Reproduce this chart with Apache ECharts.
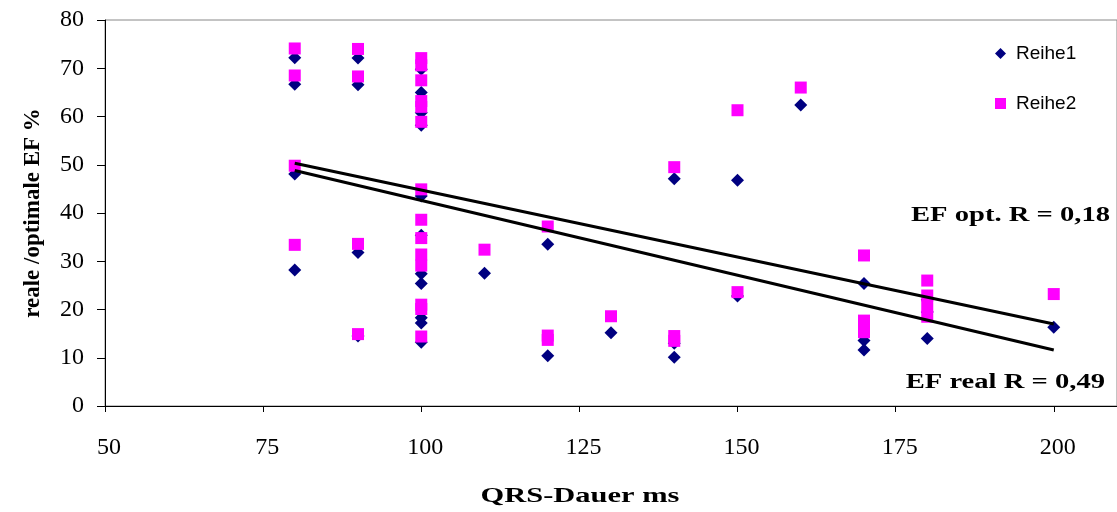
<!DOCTYPE html>
<html>
<head>
<meta charset="utf-8">
<script src="https://cdn.jsdelivr.net/npm/echarts@6/dist/echarts.min.js"></script>
<style>html,body{margin:0;padding:0;background:#fff;}#chart{width:1117px;height:512px;}</style>
</head>
<body>
<div id="chart"></div>
<script>
// Reihe1 (EF real) points: [QRS ms, EF %]
const reihe1 = [
  [80,72.2],[80,66.7],[80,48.1],[80,28.2],
  [90,72.1],[90,66.6],[90,31.8],[90,14.5],
  [100,69.8],[100,65.0],[100,60.8],[100,58.2],[100,43.5],[100,35.4],[100,27.4],[100,25.4],[100,18.3],[100,17.2],[100,13.2],
  [110,27.5],
  [120,33.5],[120,10.4],
  [130,15.2],
  [140,47.1],[140,13.0],[140,10.1],
  [150,46.8],[150,22.8],
  [160,62.4],
  [170,25.4],[170,13.6],[170,11.6],
  [180,22.0],[180,19.5],[180,14.0],
  [200,16.3]
];
// Reihe2 (EF optimal) points
const reihe2 = [
  [80,74.1],[80,68.5],[80,49.8],[80,33.4],
  [90,74.0],[90,68.3],[90,33.6],[90,14.9],
  [100,72.1],[100,70.6],[100,67.5],[100,63.2],[100,62.0],[100,58.9],[100,44.9],[100,38.6],[100,34.8],[100,31.4],[100,29.1],[100,21.0],[100,20.1],[100,14.4],
  [110,32.4],
  [120,37.2],[120,14.6],[120,13.7],
  [130,18.6],
  [140,49.5],[140,14.5],[140,13.5],
  [150,61.3],[150,23.6],
  [160,66.0],
  [170,31.2],[170,17.7],[170,16.4],[170,15.3],
  [180,26.0],[180,22.9],[180,20.7],[180,18.5],
  [200,23.2]
];
// Trend lines (value at x = 80 and x = 200)
const trendX = [80, 200];
const optTrend = [50.3, 17.0];
const realTrend = [48.8, 11.6];
const seriesNames = ['Reihe1', 'Reihe2'];
const annotations = ['EF opt. R = 0,18', 'EF real R = 0,49'];
const xAxisTitle = 'QRS-Dauer ms';
const yAxisTitle = 'reale /optimale EF %';

const serif = '"Liberation Serif", "Times New Roman", serif';
const chart = echarts.init(document.getElementById('chart'), null, {renderer: 'canvas'});
chart.setOption({
  animation: false,
  backgroundColor: '#fff',
  grid: {left: 105, top: 20, right: -6, bottom: 106, show: true, borderColor: '#888', borderWidth: 1},
  legend: {
    data: seriesNames,
    orient: 'vertical',
    left: 990, top: 39,
    itemWidth: 11, itemHeight: 11, itemGap: 31,
    textStyle: {fontFamily: '"Liberation Sans", Arial, sans-serif', fontSize: 19, color: '#000', padding: [0, 0, 0, 5]}
  },
  xAxis: {
    type: 'value', min: 50, max: 210, interval: 25,
    name: '',
    axisLine: {lineStyle: {color: '#000', width: 1}},
    axisTick: {show: true, length: 6, lineStyle: {color: '#000'}},
    axisLabel: {fontFamily: serif, fontSize: 24, color: '#000', margin: 30, showMaxLabel: false,
      padding: [0, 0, 0, 8],
      formatter: v => (v % 25 === 0 ? String(v) : '')},
    splitLine: {show: false}
  },
  yAxis: {
    type: 'value', min: 0, max: 80, interval: 10,
    name: yAxisTitle, nameLocation: 'middle', nameGap: 60,
    nameTextStyle: {fontFamily: serif, fontWeight: 'bold', fontSize: 23, color: '#000'},
    axisLine: {show: true, lineStyle: {color: '#000', width: 1}},
    axisTick: {show: true, length: 8, lineStyle: {color: '#000'}},
    axisLabel: {fontFamily: serif, fontSize: 24, color: '#000', margin: 21},
    splitLine: {show: false}
  },
  series: [
    {name: 'Reihe1', type: 'scatter', data: reihe1, symbol: 'diamond', symbolSize: 13,
      itemStyle: {color: '#000080', opacity: 1}, z: 2},
    {name: 'Reihe2', type: 'scatter', data: reihe2, symbol: 'rect', symbolSize: 12,
      itemStyle: {color: '#FF00FF', opacity: 1}, z: 3},
    {name: 'EF opt', type: 'line', data: trendX.map((x, i) => [x, optTrend[i]]), symbol: 'none',
      lineStyle: {color: '#000', width: 3}, z: 4},
    {name: 'EF real', type: 'line', data: trendX.map((x, i) => [x, realTrend[i]]), symbol: 'none',
      lineStyle: {color: '#000', width: 3}, z: 4}
  ],
  graphic: [
    {type: 'text', x: 1110, y: 216, scaleX: 1.43, z: 10,
      style: {text: annotations[0], font: 'bold 20px ' + serif, fill: '#000', textAlign: 'right', textVerticalAlign: 'middle'}},
    {type: 'text', x: 1105, y: 383, scaleX: 1.43, z: 10,
      style: {text: annotations[1], font: 'bold 20px ' + serif, fill: '#000', textAlign: 'right', textVerticalAlign: 'middle'}},
    {type: 'text', x: 580, y: 497, scaleX: 1.45, z: 10,
      style: {text: xAxisTitle, font: 'bold 21px ' + serif, fill: '#000', textAlign: 'center', textVerticalAlign: 'middle'}}
  ]
});
</script>
</body>
</html>
